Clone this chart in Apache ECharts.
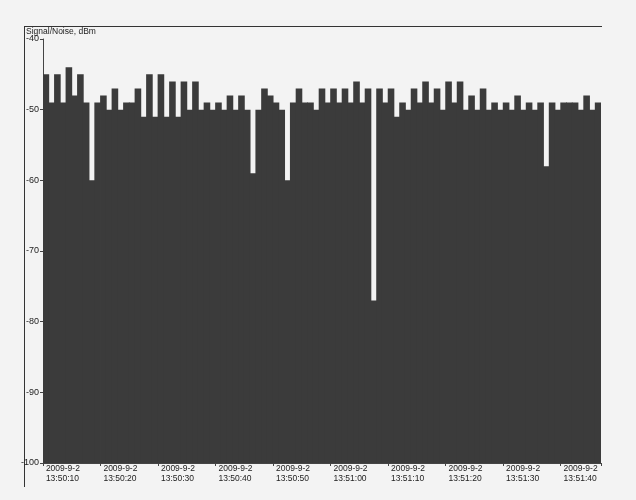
<!DOCTYPE html>
<html>
<head>
<meta charset="utf-8">
<script src="https://cdn.jsdelivr.net/npm/echarts@6/dist/echarts.min.js"></script>
<style>
html,body{margin:0;padding:0;background:#f3f3f3;}
#chart{width:636px;height:500px;}
</style>
</head>
<body>
<div id="chart"></div>
<script>
// Signal/Noise readings, dBm, one per second starting 2009-9-2 13:50:10
const dateLabel = '2009-9-2';
const startTime = [13, 50, 10];
const snrValues = [
  -45, -49, -45, -49, -44, -48, -45, -49, -60, -49,
  -48, -50, -47, -50, -49, -49, -47, -51, -45, -51,
  -45, -51, -46, -51, -46, -50, -46, -50, -49, -50,
  -49, -50, -48, -50, -48, -50, -59, -50, -47, -48,
  -49, -50, -60, -49, -47, -49, -49, -50, -47, -49,
  -47, -49, -47, -49, -46, -49, -47, -77, -47, -49,
  -47, -51, -49, -50, -47, -49, -46, -49, -47, -50,
  -46, -49, -46, -50, -48, -50, -47, -50, -49, -50,
  -49, -50, -48, -50, -49, -50, -49, -58, -49, -50,
  -49, -49, -49, -50, -48, -50, -49
];
const yTicks = [-100, -90, -80, -70, -60, -50, -40];
const yMin = -100, yMax = -40, yStep = 10;

function pad(n){ return (n < 10 ? '0' : '') + n; }
const categories = snrValues.map((_, i) => {
  let s = startTime[0]*3600 + startTime[1]*60 + startTime[2] + i;
  const h = Math.floor(s/3600); s -= h*3600;
  const m = Math.floor(s/60); s -= m*60;
  return h + ':' + pad(m) + ':' + pad(s);
});

// bars rise from the -100 floor: plotted as height above the floor
const barHeights = snrValues.map(v => v - yMin);
const FONT = 'Liberation Sans Narrow, Liberation Sans, Arial, sans-serif';

const chart = echarts.init(document.getElementById('chart'), null, {renderer: 'canvas'});
chart.setOption({
  backgroundColor: '#f3f3f3',
  animation: false,
  grid: {left: 43, right: 35, top: 39, bottom: 37, containLabel: false},
  xAxis: {
    type: 'category',
    data: categories,
    boundaryGap: true,
    axisLine: {lineStyle: {color: '#444', width: 1}},
    axisTick: {show: true, length: 3, interval: i => i % 10 === 0, lineStyle: {color: '#444'}},
    axisLabel: {
      interval: i => i % 10 === 0,
      align: 'left',
      margin: 1,
      fontSize: 8.5,
      lineHeight: 10,
      color: '#222',
      fontFamily: FONT,
      formatter: v => dateLabel + '\n' + v
    },
    splitLine: {show: false}
  },
  yAxis: {
    type: 'value',
    min: 0,
    max: yMax - yMin,
    interval: yStep,
    axisLine: {show: true, lineStyle: {color: '#444', width: 1}},
    axisTick: {show: true, length: 3, lineStyle: {color: '#444'}},
    axisLabel: {
      margin: 4,
      fontSize: 9,
      color: '#222',
      fontFamily: FONT,
      formatter: v => String(yTicks[Math.round(v / yStep)])
    },
    splitLine: {show: false}
  },
  series: [{
    type: 'bar',
    data: barHeights,
    barWidth: 6.6,
    itemStyle: {color: '#3b3b3b'},
    emphasis: {disabled: true}
  }],
  graphic: [
    {type: 'line', shape: {x1: 24, y1: 26.5, x2: 602, y2: 26.5}, style: {stroke: '#333', lineWidth: 1}, silent: true},
    {type: 'line', shape: {x1: 24.5, y1: 26, x2: 24.5, y2: 487}, style: {stroke: '#333', lineWidth: 1}, silent: true},
    {type: 'text', left: 26, top: 27, style: {text: 'Signal/Noise, dBm', fontSize: 8.5, fill: '#222', fontFamily: FONT}, silent: true}
  ]
});
</script>
</body>
</html>
